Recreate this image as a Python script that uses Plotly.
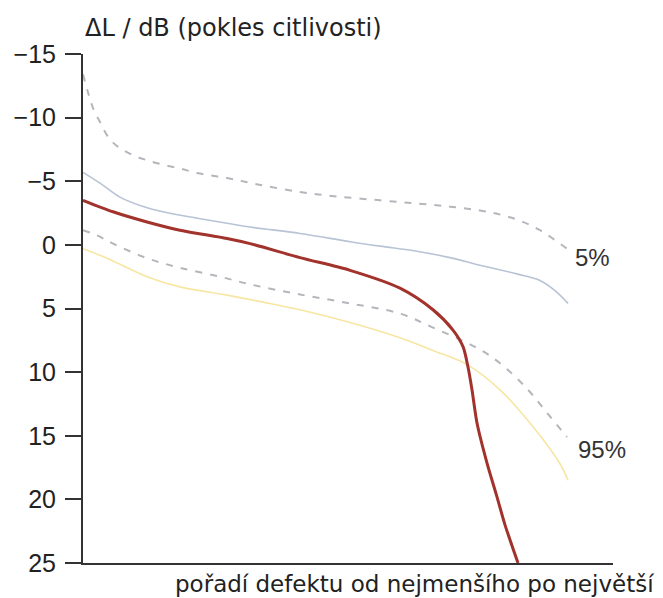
import plotly.graph_objects as go

# x: rank of defect (0-100, smallest to largest), y: ΔL / dB
upper_dash_x = [0, 0.94, 1.89, 3.21, 4.72, 6.6, 9.43, 12.08, 15.09, 18.3, 21.51, 27.17, 33.0, 40.94, 48.0, 56.04, 63.0, 69.25, 74.91, 79.0, 82.45, 86.23, 91.32]
upper_dash_y = [-13.4, -12.0, -10.75, -9.65, -8.5, -7.7, -7.05, -6.65, -6.3, -6.0, -5.65, -5.25, -4.75, -4.15, -3.8, -3.5, -3.25, -3.0, -2.7, -2.35, -1.9, -1.15, 0.3]

blue_x = [0, 3.21, 6.98, 10.75, 15.09, 21.51, 27.17, 31.51, 40.94, 50.38, 56.04, 63.0, 69.25, 74.91, 82.0, 86.23, 89.06, 91.51]
blue_y = [-5.7, -4.85, -3.75, -3.1, -2.6, -2.1, -1.7, -1.4, -0.9, -0.25, 0.1, 0.5, 1.0, 1.6, 2.3, 2.8, 3.6, 4.6]

red_x = [0, 5.66, 12.08, 18.3, 27.17, 31.51, 40.94, 50.38, 59.81, 66.04, 69.81, 71.7, 72.64, 73.4, 74.34, 76.23, 78.11, 79.62, 82.08]
red_y = [-3.5, -2.6, -1.8, -1.15, -0.5, -0.1, 1.0, 2.0, 3.4, 5.1, 6.7, 8.0, 9.6, 11.4, 14.0, 17.15, 19.8, 22.0, 25.0]

lower_dash_x = [0, 2.64, 5.66, 12.08, 18.3, 25.85, 31.51, 40.94, 50.38, 59.81, 66.04, 74.34, 78.68, 83.77, 87.55, 91.32]
lower_dash_y = [-1.15, -0.75, -0.1, 1.05, 1.8, 2.5, 3.1, 3.9, 4.6, 5.4, 6.5, 8.1, 9.3, 11.3, 13.2, 15.1]

yellow_x = [0, 4.53, 12.08, 18.3, 27.17, 34.0, 40.94, 50.38, 59.81, 66.04, 72.64, 78.68, 84.91, 90.0, 91.51]
yellow_y = [0.3, 1.05, 2.5, 3.3, 3.95, 4.5, 5.1, 6.1, 7.3, 8.3, 9.45, 11.4, 14.3, 17.2, 18.5]

y_ticks = [-15, -10, -5, 0, 5, 10, 15, 20, 25]
y_tick_labels = ["\u221215", "\u221210", "\u22125", "0", "5", "10", "15", "20", "25"]

dash_style = "7px,8px"
fig = go.Figure()
fig.add_trace(go.Scatter(x=upper_dash_x, y=upper_dash_y, mode="lines",
                         line=dict(color="#b4b6bc", width=2, dash=dash_style, shape="spline", smoothing=1.0)))
fig.add_trace(go.Scatter(x=lower_dash_x, y=lower_dash_y, mode="lines",
                         line=dict(color="#b4b6bc", width=2, dash=dash_style, shape="spline", smoothing=1.0)))
fig.add_trace(go.Scatter(x=blue_x, y=blue_y, mode="lines",
                         line=dict(color="#b8c3d6", width=1.6, shape="spline", smoothing=1.0)))
fig.add_trace(go.Scatter(x=yellow_x, y=yellow_y, mode="lines",
                         line=dict(color="#f7e6a2", width=1.6, shape="spline", smoothing=1.0)))
fig.add_trace(go.Scatter(x=red_x, y=red_y, mode="lines",
                         line=dict(color="#a2322c", width=3, shape="spline", smoothing=0.8)))

fig.add_annotation(x=96.2, y=1.0, text="5%", showarrow=False,
                   font=dict(family="Liberation Sans", size=24, color="#333"))
fig.add_annotation(x=98.0, y=16.1, text="95%", showarrow=False,
                   font=dict(family="Liberation Sans", size=24, color="#333"))
fig.add_annotation(x=0.0, y=1.051, xref="paper", yref="paper", xanchor="left", yanchor="middle",
                   text="\u0394L / dB (pokles citlivosti)", showarrow=False,
                   font=dict(family="DejaVu Sans", size=24, color="#222"))
fig.add_annotation(x=1.081, y=-0.041, xref="paper", yref="paper", xanchor="right", yanchor="middle",
                   text="pořadí defektu od nejmenšího po největší", showarrow=False,
                   font=dict(family="DejaVu Sans", size=23, color="#222"))

# the page body adds an 8px offset; margins compensate so the plot area lands at x 83-613, y 54-563
fig.update_layout(
    width=663, height=598,
    margin=dict(l=75, r=58, t=46, b=43),
    paper_bgcolor="white", plot_bgcolor="white",
    showlegend=False,
    xaxis=dict(range=[0, 100], showgrid=False, zeroline=False, showticklabels=False,
               showline=True, linecolor="#333", linewidth=2, ticks="", automargin=False),
    yaxis=dict(range=[25, -15], showgrid=False, zeroline=False, automargin=False,
               tickvals=y_ticks, ticktext=y_tick_labels,
               showline=True, linecolor="#333", linewidth=2,
               ticks="outside", ticklen=16, tickwidth=2, tickcolor="#333",
               ticklabelstandoff=4,
               tickfont=dict(family="Liberation Sans", size=25, color="#222")),
)
fig.write_html("out.html")
